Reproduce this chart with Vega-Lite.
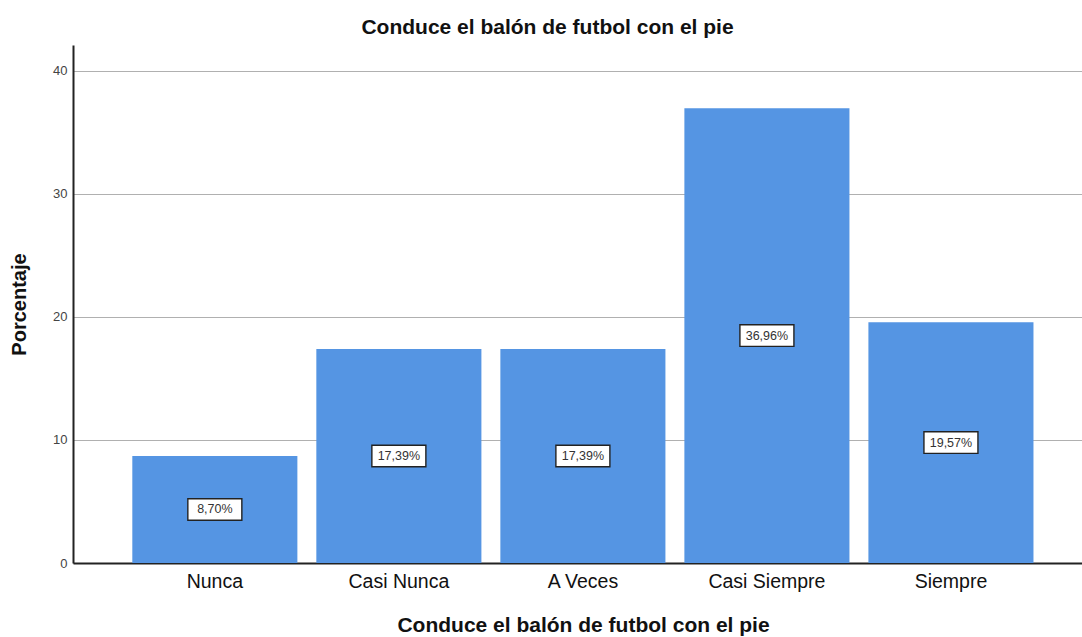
{
  "$schema": "https://vega.github.io/schema/vega-lite/v6.json",
  "width": 1009,
  "height": 518,
  "autosize": {"type": "none"},
  "padding": {"left": 73, "top": 45, "right": 0, "bottom": 74},
  "background": "white",
  "config": {
    "font": "Liberation Sans",
    "view": {"stroke": null}
  },
  "title": {
    "text": "Conduce el balón de futbol con el pie",
    "fontSize": 21,
    "fontWeight": "bold",
    "color": "#111111",
    "offset": 7,
    "dx": -30
  },
  "data": {
    "values": [
      {"cat": "Nunca", "pct": 8.70, "label": "8,70%"},
      {"cat": "Casi Nunca", "pct": 17.39, "label": "17,39%"},
      {"cat": "A Veces", "pct": 17.39, "label": "17,39%"},
      {"cat": "Casi Siempre", "pct": 36.96, "label": "36,96%"},
      {"cat": "Siempre", "pct": 19.57, "label": "19,57%"}
    ]
  },
  "transform": [{"calculate": "datum.pct / 2", "as": "mid"}],
  "encoding": {
    "x": {
      "field": "cat",
      "type": "nominal",
      "sort": null,
      "scale": {"paddingInner": 0.103, "paddingOuter": 0.293, "align": 0.55},
      "axis": {
        "title": "Conduce el balón de futbol con el pie",
        "titleFontSize": 21,
        "titleFontWeight": "bold",
        "titleColor": "#111111",
        "titlePadding": 24,
        "titleX": 510,
        "labelAngle": 0,
        "labelFontSize": 19.5,
        "labelColor": "#111111",
        "labelPadding": 9,
        "ticks": false,
        "domainColor": "#222222",
        "domainWidth": 2,
        "grid": false
      }
    }
  },
  "layer": [
    {
      "mark": {"type": "bar", "color": "#5595e3"},
      "encoding": {
        "y": {
          "field": "pct",
          "type": "quantitative",
          "scale": {"domain": [0, 42.1], "nice": false},
          "axis": {
            "title": "Porcentaje",
            "titleFontSize": 20,
            "titleFontWeight": "bold",
            "titleColor": "#111111",
            "titlePadding": 23,
            "values": [0, 10, 20, 30, 40],
            "labelFontSize": 13,
            "labelColor": "#444444",
            "labelPadding": 6,
            "ticks": false,
            "domainColor": "#222222",
            "domainWidth": 2,
            "gridColor": "#b0b0b0",
            "gridWidth": 1.2
          }
        }
      }
    },
    {
      "mark": {
        "type": "point",
        "shape": "M-1,-0.4L1,-0.4L1,0.4L-1,0.4Z",
        "filled": true,
        "fill": "white",
        "stroke": "#222222",
        "strokeWidth": 1.4,
        "opacity": 1,
        "size": 2916
      },
      "encoding": {
        "y": {"field": "mid", "type": "quantitative"}
      }
    },
    {
      "mark": {"type": "text", "fontSize": 12.5, "color": "#333333", "baseline": "middle", "align": "center"},
      "encoding": {
        "y": {"field": "mid", "type": "quantitative"},
        "text": {"field": "label"}
      }
    }
  ]
}
